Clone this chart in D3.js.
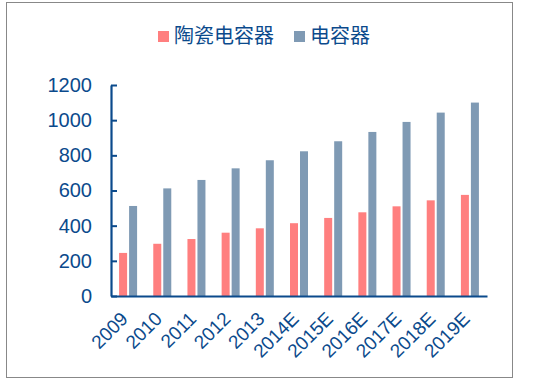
<!DOCTYPE html>
<html><head><meta charset="utf-8">
<script src="https://cdn.jsdelivr.net/npm/d3@7"></script>
<style>body{margin:0;background:#fff}svg{display:block}</style>
</head><body>
<svg id="c" width="548" height="382"></svg>
<script>
const categories = ["2009","2010","2011","2012","2013","2014E","2015E","2016E","2017E","2018E","2019E"];
const ceramic = [245,297,324,360,385,414,444,476,510,544,575];
const capacitor = [512,612,660,726,772,823,880,933,990,1043,1100];
const seriesNames = ["陶瓷电容器","电容器"];
const yTicks = [0,200,400,600,800,1000,1200];

const svg = d3.select("#c");
const axisColor = "#0b4a8c";
const colors = ["#ff7f7f","#7f9ab4"];
const font = "Arial, 'Liberation Sans', sans-serif";

svg.append("rect").attr("x",6.5).attr("y",2.5).attr("width",506).attr("height",375)
  .attr("fill","#fff").attr("stroke","#888").attr("stroke-width",1);

const x0 = 111, x1 = 487, yTop = 85, yBot = 296;
const x = d3.scaleBand().domain(categories).range([x0,x1]).paddingInner(0).paddingOuter(0);
const y = d3.scaleLinear().domain([0,1200]).range([yBot,yTop]);

const barW = 8, gap = 2;
const g = svg.append("g");
categories.forEach((c,i)=>{
  const cx = x(c) + x.bandwidth()/2;
  g.append("rect").attr("x",cx - gap/2 - barW).attr("y",y(ceramic[i])).attr("width",barW)
    .attr("height",y(0)-y(ceramic[i])).attr("fill",colors[0]);
  g.append("rect").attr("x",cx + gap/2).attr("y",y(capacitor[i])).attr("width",barW)
    .attr("height",y(0)-y(capacitor[i])).attr("fill",colors[1]);
});

// y axis
const ya = svg.append("g").attr("transform",`translate(${x0},0)`)
  .call(d3.axisLeft(y).tickValues(yTicks).tickFormat(d3.format("d")).tickSize(-6).tickPadding(19).tickSizeOuter(0));
ya.select(".domain").attr("stroke",axisColor).attr("stroke-width",2.2);
ya.selectAll(".tick line").attr("stroke",axisColor).attr("stroke-width",2);
ya.selectAll("text").attr("fill",axisColor).attr("font-size",20).attr("font-family",font);

// x axis
const xa = svg.append("g").attr("transform",`translate(0,${yBot})`)
  .call(d3.axisBottom(x).tickSize(0).tickSizeOuter(0).tickPadding(0));
xa.select(".domain").attr("stroke",axisColor).attr("stroke-width",2.2);
xa.selectAll("text").attr("fill",axisColor).attr("font-size",19).attr("font-family",font)
  .attr("text-anchor","end").attr("dy",null).attr("y",null)
  .attr("transform","translate(1,24) rotate(-45)");

// legend
const leg = svg.append("g");
const items = [{x:158,name:seriesNames[0],c:colors[0]},{x:294,name:seriesNames[1],c:colors[1]}];
items.forEach(it=>{
  leg.append("rect").attr("x",it.x).attr("y",31).attr("width",11).attr("height",11).attr("fill",it.c);
  leg.append("text").attr("x",it.x+16).attr("y",43).text(it.name)
    .attr("fill",axisColor).attr("font-size",20)
    .attr("font-family","'Noto Sans CJK SC', sans-serif");
});
</script>
</body></html>
